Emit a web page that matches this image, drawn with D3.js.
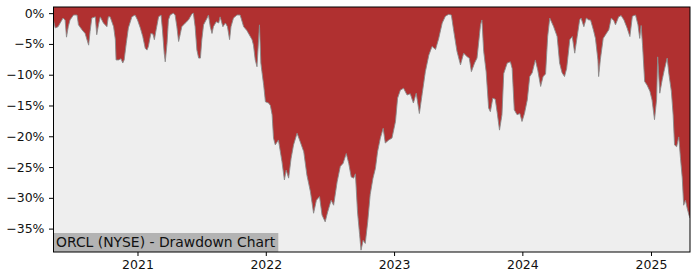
<!DOCTYPE html>
<html>
<head>
<meta charset="utf-8">
<script src="https://cdn.jsdelivr.net/npm/d3@7"></script>
<style>
  body { margin: 0; background: #fff; }
  svg { display: block; font-family: "DejaVu Sans", sans-serif; }
</style>
</head>
<body>
<div id="chart"></div>
<script>
// Drawdown chart - ORCL

const dates = [
  "2020-05-07","2020-05-12","2020-05-20","2020-05-28","2020-06-03","2020-06-09","2020-06-13","2020-06-18","2020-06-23","2020-07-03",
  "2020-07-13","2020-07-17","2020-07-27","2020-08-05","2020-08-15","2020-08-19","2020-08-24","2020-09-03","2020-09-07","2020-09-12",
  "2020-09-17","2020-09-26","2020-10-06","2020-10-10","2020-10-15","2020-10-25","2020-10-30","2020-11-01","2020-11-08","2020-11-15",
  "2020-11-20","2020-11-24","2020-11-30","2020-12-06","2020-12-16","2020-12-25","2021-01-01","2021-01-09","2021-01-16","2021-01-23",
  "2021-01-28","2021-02-01","2021-02-08","2021-02-14","2021-02-18","2021-02-23","2021-03-02","2021-03-09","2021-03-13","2021-03-18",
  "2021-03-21","2021-03-26","2021-03-30","2021-04-04","2021-04-13","2021-04-18","2021-04-23","2021-04-28","2021-05-03","2021-05-07",
  "2021-05-17","2021-05-26","2021-06-05","2021-06-09","2021-06-14","2021-06-19","2021-06-24","2021-06-29","2021-07-03","2021-07-08",
  "2021-07-18","2021-07-22","2021-07-27","2021-08-01","2021-08-05","2021-08-13","2021-08-20","2021-08-24","2021-09-01","2021-09-08",
  "2021-09-14","2021-09-20","2021-09-24","2021-10-01","2021-10-11","2021-10-20","2021-10-30","2021-11-08","2021-11-18","2021-11-23",
  "2021-11-27","2021-12-02","2021-12-07","2021-12-14","2021-12-18","2021-12-21","2021-12-26","2021-12-31","2022-01-09","2022-01-14",
  "2022-01-19","2022-01-23","2022-01-28","2022-02-06","2022-02-16","2022-02-23","2022-02-28","2022-03-07","2022-03-14","2022-03-21",
  "2022-03-31","2022-04-09","2022-04-19","2022-04-28","2022-05-08","2022-05-17","2022-05-25","2022-06-03","2022-06-10","2022-06-19",
  "2022-06-26","2022-07-06","2022-07-13","2022-07-23","2022-08-01","2022-08-09","2022-08-18","2022-08-25","2022-09-01","2022-09-08",
  "2022-09-13","2022-09-19","2022-09-25","2022-09-29","2022-10-05","2022-10-11","2022-10-18","2022-10-25","2022-11-02","2022-11-09",
  "2022-11-15","2022-11-23","2022-12-01","2022-12-07","2022-12-17","2022-12-26","2023-01-05","2023-01-11","2023-01-19","2023-01-28",
  "2023-02-07","2023-02-16","2023-02-25","2023-03-05","2023-03-14","2023-03-22","2023-03-31","2023-04-10","2023-04-19","2023-04-29",
  "2023-05-08","2023-05-18","2023-05-27","2023-06-05","2023-06-13","2023-06-20","2023-06-29","2023-07-09","2023-07-18","2023-07-28",
  "2023-08-03","2023-08-09","2023-08-18","2023-08-25","2023-09-04","2023-09-08","2023-09-13","2023-09-20","2023-09-27","2023-10-02",
  "2023-10-09","2023-10-16","2023-10-21","2023-10-28","2023-11-04","2023-11-09","2023-11-19","2023-11-28","2023-12-03","2023-12-09",
  "2023-12-17","2023-12-25","2023-12-31","2024-01-07","2024-01-15","2024-01-22","2024-01-29","2024-02-07","2024-02-14","2024-02-22",
  "2024-02-29","2024-03-07","2024-03-13","2024-03-19","2024-03-30","2024-04-09","2024-04-16","2024-04-23","2024-04-30","2024-05-06",
  "2024-05-15","2024-05-22","2024-05-29","2024-06-05","2024-06-12","2024-06-16","2024-06-24","2024-07-01","2024-07-08","2024-07-13",
  "2024-07-21","2024-07-27","2024-08-03","2024-08-05","2024-08-10","2024-08-18","2024-08-27","2024-09-03","2024-09-10","2024-09-17",
  "2024-09-22","2024-10-01","2024-10-08","2024-10-16","2024-10-25","2024-11-02","2024-11-09","2024-11-18","2024-11-25","2024-11-30",
  "2024-12-04","2024-12-08","2024-12-14","2024-12-21","2024-12-29","2025-01-04","2025-01-11","2025-01-17","2025-01-20","2025-01-26",
  "2025-02-02","2025-02-08","2025-02-16","2025-02-21","2025-02-28","2025-03-05","2025-03-09","2025-03-15","2025-03-21","2025-03-26",
  "2025-03-31","2025-04-04","2025-04-09","2025-04-14","2025-04-19","2025-04-22"
];

// drawdown in percent
const drawdown = [
  -1.2, -2.4, -2.2, -1.4, -0.8, -1.1, -3.9, -2.2, -1.1, -0.3,
  -0.3, -1.9, -2.7, -3.3, -5.2, -3.0, -0.8, -0.6, -3.5, -1.9,
  -0.6, -1.6, -2.2, -0.6, -0.6, -2.2, -4.3, -7.6, -7.6, -7.4,
  -8.1, -7.6, -4.9, -2.4, -0.6, -0.3, -1.1, -2.4, -3.8, -5.7,
  -6.0, -5.4, -3.3, -3.4, -4.3, -2.7, -0.6, -0.3, -2.7, -6.5,
  -7.9, -4.9, -1.1, -0.3, 0.0, -0.3, -2.2, -4.6, -3.3, -2.2,
  -1.6, -1.1, -0.1, 0.0, -2.2, -6.0, -7.3, -7.3, -4.3, -1.9,
  -0.8, -0.3, -2.2, -3.3, -2.2, -1.4, -1.6, -0.6, -2.2, -1.6,
  -2.2, -4.3, -2.2, -0.8, -0.3, -0.3, -2.2, -2.8, -3.8, -4.3,
  -5.2, -7.6, -8.7, -1.9, -8.1, -9.5, -11.7, -14.4, -14.6, -15.0,
  -16.5, -20.3, -21.4, -20.6, -24.1, -27.1, -25.5, -26.8, -23.6, -21.4,
  -19.5, -20.9, -22.5, -26.3, -29.0, -32.5, -30.4, -29.8, -32.8, -33.9,
  -32.3, -30.4, -31.2, -27.4, -24.9, -24.4, -22.8, -24.4, -26.6, -26.8,
  -26.1, -32.3, -36.0, -38.5, -36.9, -37.4, -33.9, -29.5, -26.8, -25.2,
  -22.5, -20.3, -18.7, -21.1, -20.6, -20.3, -17.6, -13.8, -12.5, -12.2,
  -13.3, -13.1, -14.6, -13.0, -16.3, -13.1, -9.5, -6.8, -5.4, -5.9,
  -4.1, -1.6, -0.5, -0.2, -0.3, -3.0, -6.2, -8.4, -6.5, -7.1,
  -7.3, -9.5, -8.1, -7.3, -1.9, -1.1, -6.2, -9.5, -15.4, -16.0,
  -13.8, -14.0, -16.0, -19.0, -16.5, -9.8, -8.1, -7.9, -9.0, -15.7,
  -16.5, -16.3, -17.6, -16.3, -14.1, -10.3, -9.7, -7.6, -9.3, -11.9,
  -10.3, -9.9, -3.8, -0.8, -2.2, -3.8, -8.1, -9.7, -10.3, -9.0,
  -4.3, -3.8, -6.5, -3.8, -1.1, -0.8, -2.2, -0.8, -1.1, -1.1,
  -2.7, -4.1, -7.6, -10.3, -7.5, -4.1, -3.3, -2.7, -0.8, -1.2,
  -1.9, -0.6, -0.4, -1.1, -2.4, -3.8, -0.5, -0.3, -1.9, -4.1,
  -2.0, -5.2, -11.1, -11.7, -12.7, -14.1, -17.3, -14.0, -7.1, -13.0,
  -10.8, -9.2, -7.3, -9.9, -12.7, -16.5, -21.4, -21.7, -20.1, -23.6,
  -26.8, -31.2, -30.4, -31.7, -32.8, -33.3
];

const yTicks = [0, -5, -10, -15, -20, -25, -30, -35];
const xTicks = ["2021-01-01", "2022-01-01", "2023-01-01", "2024-01-01", "2025-01-01"];
const title = "ORCL (NYSE) - Drawdown Chart";

const width = 700, height = 280;
const margin = { top: 7, right: 10, bottom: 28, left: 53.5 };

const parse = d3.timeParse("%Y-%m-%d");
const data = dates.map((d, i) => ({ date: parse(d), value: drawdown[i] }));

const svg = d3.select("#chart").append("svg")
  .attr("width", width)
  .attr("height", height);

const x = d3.scaleTime()
  .domain(d3.extent(data, d => d.date))
  .range([margin.left, width - margin.right]);

const y = d3.scaleLinear()
  .domain([-38.8, 1.0])
  .range([height - margin.bottom, margin.top]);

svg.append("defs").append("clipPath").attr("id", "clip")
  .append("rect")
  .attr("x", margin.left).attr("y", margin.top)
  .attr("width", width - margin.left - margin.right)
  .attr("height", height - margin.top - margin.bottom);

// plot background
svg.append("rect")
  .attr("x", margin.left).attr("y", margin.top)
  .attr("width", width - margin.left - margin.right)
  .attr("height", height - margin.top - margin.bottom)
  .attr("fill", "#eeeeee");

const plot = svg.append("g").attr("clip-path", "url(#clip)");

const area = d3.area()
  .x(d => x(d.date))
  .y0(y(y.domain()[1]))
  .y1(d => y(d.value));

plot.append("path")
  .datum(data)
  .attr("d", area)
  .attr("fill", "#b03030");

const line = d3.line()
  .x(d => x(d.date))
  .y(d => y(d.value));

plot.append("path")
  .datum(data)
  .attr("d", line)
  .attr("fill", "none")
  .attr("stroke", "#8a8a8a")
  .attr("stroke-width", 0.9);

// title box in lower left
const label = svg.append("g");
const labelText = label.append("text")
  .attr("x", margin.left + 2.5)
  .attr("y", height - margin.bottom - 5)
  .attr("font-size", 13.9)
  .attr("fill", "#111")
  .text(title);
const bb = labelText.node().getBBox();
label.insert("rect", "text")
  .attr("x", margin.left)
  .attr("y", height - margin.bottom - 19)
  .attr("width", bb.x + bb.width + 2.5 - margin.left)
  .attr("height", 19)
  .attr("fill", "#b3b3b3");

// axes
const fmt = v => (v < 0 ? "\u2212" + Math.abs(v) : v) + "%";

const yAxis = svg.append("g")
  .attr("transform", `translate(${margin.left},0)`)
  .call(d3.axisLeft(y).tickValues(yTicks).tickFormat(fmt).tickSize(4.5).tickPadding(4.5));

const xAxis = svg.append("g")
  .attr("transform", `translate(0,${height - margin.bottom})`)
  .call(d3.axisBottom(x).tickValues(xTicks.map(parse)).tickFormat(d3.timeFormat("%Y")).tickSize(4).tickPadding(4));

[yAxis, xAxis].forEach(g => {
  g.select(".domain").remove();
  g.selectAll("text").attr("font-size", 12.5).attr("fill", "#111").attr("font-family", "DejaVu Sans");
  g.selectAll("line").attr("stroke", "#000");
});

// frame
svg.append("rect")
  .attr("x", margin.left).attr("y", margin.top)
  .attr("width", width - margin.left - margin.right)
  .attr("height", height - margin.top - margin.bottom)
  .attr("fill", "none")
  .attr("stroke", "#000")
  .attr("stroke-width", 1);
</script>
</body>
</html>
